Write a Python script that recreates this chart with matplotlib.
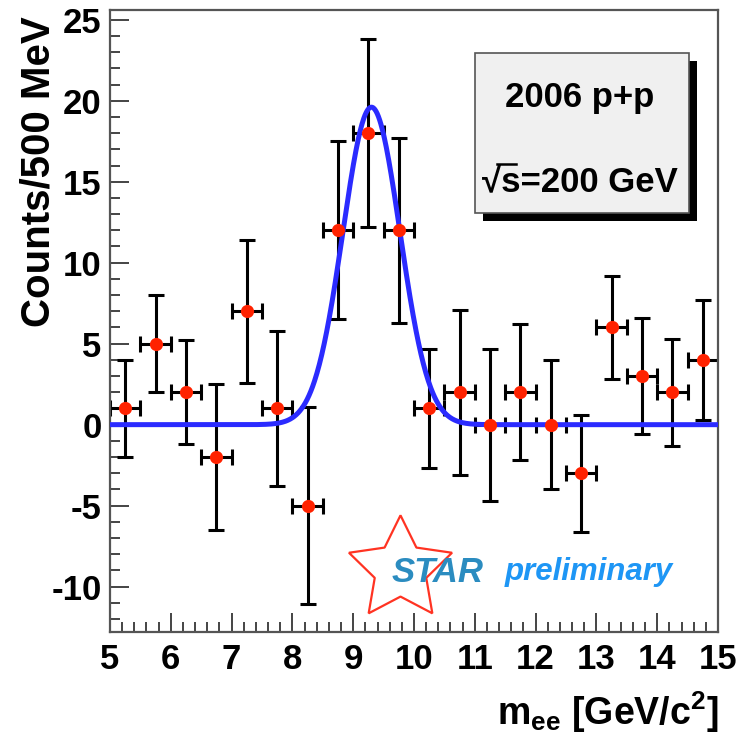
import numpy as np
import matplotlib
matplotlib.use("Agg")
import matplotlib.pyplot as plt
from matplotlib.patches import Rectangle
from matplotlib.lines import Line2D
from matplotlib.ticker import MultipleLocator

# e+e- invariant mass, 500 MeV bins
mass = [5.25, 5.75, 6.25, 6.75, 7.25, 7.75, 8.25, 8.75, 9.25, 9.75,
        10.25, 10.75, 11.25, 11.75, 12.25, 12.75, 13.25, 13.75, 14.25, 14.75]
counts = [1, 5, 2, -2, 7, 1, -5, 12, 18, 12,
          1, 2, 0, 2, 0, -3, 6, 3, 2, 4]
count_err = [3.0, 3.0, 3.2, 4.5, 4.4, 4.8, 6.1, 5.5, 5.8, 5.7,
             3.7, 5.1, 4.7, 4.2, 4.0, 3.6, 3.2, 3.6, 3.3, 3.7]
bin_half = 0.25

# gaussian fit to the Upsilon peak
fit_amp = 19.6
fit_mean = 9.3
fit_sigma = 0.47

plt.rcParams["font.family"] = ["Liberation Sans", "DejaVu Sans"]
plt.rcParams["font.weight"] = "bold"
plt.rcParams["axes.unicode_minus"] = False
plt.rcParams["mathtext.fontset"] = "custom"
plt.rcParams["mathtext.rm"] = "Liberation Sans:bold"
plt.rcParams["mathtext.it"] = "Liberation Sans:bold"
plt.rcParams["mathtext.bf"] = "Liberation Sans:bold"

W, H = 746, 735
fig = plt.figure(figsize=(W / 100, H / 100), dpi=100)
ax = fig.add_axes([110 / W, 1 - 632 / H, 608 / W, 622 / H])

ax.errorbar(mass, counts, yerr=count_err, xerr=bin_half, fmt="none",
            ecolor="black", elinewidth=2.2, capsize=6, capthick=2.2, zorder=2)

xf = np.linspace(5, 15, 1000)
yf = fit_amp * np.exp(-0.5 * ((xf - fit_mean) / fit_sigma) ** 2)
ax.plot(xf, yf, color="#2b2bff", lw=3.6, zorder=3, solid_capstyle="butt")

ax.plot(mass, counts, "o", color="#ff2200", ms=9.5, mec="none", zorder=4)

ax.set_xlim(5, 15)
ax.set_ylim(-12.8, 25.6)
ax.xaxis.set_major_locator(MultipleLocator(1))
ax.xaxis.set_minor_locator(MultipleLocator(0.2))
ax.yaxis.set_major_locator(MultipleLocator(5))
ax.yaxis.set_minor_locator(MultipleLocator(1))
ax.tick_params(which="both", direction="in", top=False, right=False,
               color="#444444", width=1.4, labelsize=25)
ax.tick_params(which="major", length=14)
ax.tick_params(which="minor", length=7)
ax.tick_params(axis="x", which="major", pad=8)
ax.tick_params(axis="y", which="major", pad=6)
for s in ax.spines.values():
    s.set_color("#555555")
    s.set_linewidth(1.6)

# axis titles
fig.text(39 / W, 1 - 16 / H, "Counts/500 MeV", rotation=90, ha="center",
         va="top", fontsize=29)
fig.text(719 / W, 1 - 712 / H, r"m$_{\mathregular{ee}}$ [GeV/c$^{2}$]",
         ha="right", va="center", fontsize=27)

# info box with drop shadow
bx0, by0, bx1, by1 = 475, 53, 689, 213
fig.patches.append(Rectangle(((bx0 + 8) / W, 1 - (by1 + 8) / H),
                             (bx1 - bx0) / W, (by1 - by0) / H,
                             transform=fig.transFigure, facecolor="black",
                             edgecolor="none", zorder=5))
fig.patches.append(Rectangle((bx0 / W, 1 - by1 / H),
                             (bx1 - bx0) / W, (by1 - by0) / H,
                             transform=fig.transFigure, facecolor="#f0f0f0",
                             edgecolor="#555555", lw=1.2, zorder=6))
fig.text(580 / W, 1 - 98 / H, "2006 p+p", ha="center", va="center",
         fontsize=25, zorder=7)
fig.text(580 / W, 1 - 183 / H, "\u221as=200 GeV", ha="center",
         va="center", fontsize=25, zorder=7)
# bar over the s of the square root
fig.lines.append(Line2D([497 / W, 516 / W], [1 - 164 / H, 1 - 164 / H],
                        transform=fig.transFigure, color="black", lw=1.8,
                        zorder=8))

# STAR preliminary logo
ax.plot([(400 - 110) / 608], [(632 - 569) / 622], marker=(5, 1, 0), ms=78,
        mfc="none", mec="#ff3322", mew=1.6, transform=ax.transAxes,
        clip_on=False, zorder=5)
fig.text(392 / W, 1 - 572 / H, "STAR", ha="left", va="center", fontsize=25,
         style="italic", color="#2b8cc0", zorder=6)
fig.text(505 / W, 1 - 572 / H, "preliminary", ha="left", va="center",
         fontsize=22.5, style="italic", color="#1e96f5", zorder=6)

fig.savefig("out.png", dpi=100)
